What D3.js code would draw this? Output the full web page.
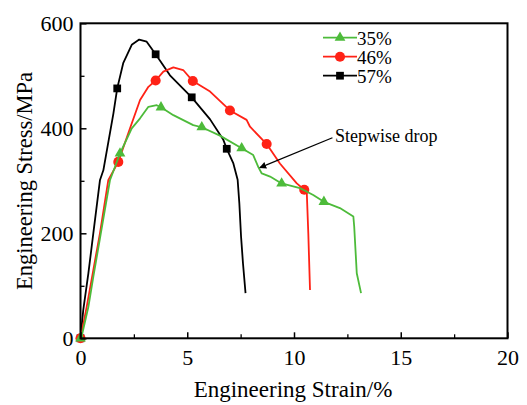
<!DOCTYPE html>
<html><head><meta charset="utf-8">
<script src="https://cdn.jsdelivr.net/npm/d3@7"></script>
<style>body{margin:0;background:#fff}svg{display:block}</style>
</head><body>
<script>
// ---- data ----
const seriesNames = ["35%", "46%", "57%"];
const seriesColors = ["#4dbb3a", "#ff2216", "#000000"];
const xTicks = [0, 5, 10, 15, 20];
const yTicks = [0, 200, 400, 600];

const strain35 = [0,0.05,0.37,0.6,0.91,1.38,1.85,2.4,2.79,3.18,3.57,3.77,4.35,5.28,5.68,6.53,7.55,8.09,8.33,8.49,8.88,9.42,10.28,10.9,11.4,12.15,12.78,12.82,12.94,13.14];
const stress35 = [0,3,60,117,190,301,352,400,419,441,444,440,425,406,402,386,362,349,326,314,308,295,286,273,260,248,232,213,124,86];
const mk35x = [0,1.85,3.77,5.68,7.55,9.42,11.4];
const mk35y = [0,352,440,402,362,295,260];

const strain46 = [0,0.29,0.6,0.91,1.3,1.77,2.32,2.79,3.18,3.52,3.88,4.35,4.81,5.26,6.07,7.0,7.78,7.94,8.72,9.34,10.13,10.48,10.6,10.67,10.75];
const stress46 = [0,60,130,200,301,336,400,454,479,491,508,516,511,490,470,434,416,403,370,333,295,283,276,200,92];
const mk46x = [0,1.77,3.52,5.26,7.0,8.72,10.48];
const mk46y = [0,336,491,490,434,370,283];

const strain57 = [0,0.13,0.37,0.6,0.91,1.07,1.54,1.72,2.0,2.4,2.75,3.1,3.52,4.19,5.21,6.07,6.69,6.85,7.16,7.36,7.44,7.52,7.61,7.73];
const stress57 = [0,54,124,200,301,320,428,476,524,559,569,565,541,501,459,417,378,361,333,302,257,194,143,86];
const mk57x = [0,1.72,3.52,5.21,6.85];
const mk57y = [0,476,541,459,361];

const annotationText = "Stepwise drop";
const annotFrom = [11.8, 382];  // data coords of arrow tail
const annotTo = [8.4, 325];     // data coords of arrow head

// ---- build ----
const W = 527, H = 405;
const svg = d3.select("body").append("svg").attr("width", W).attr("height", H);
const x = d3.scaleLinear().domain([0, 20]).range([80.5, 507.5]);
const y = d3.scaleLinear().domain([0, 600]).range([338.3, 23.3]);
const font = "'Liberation Serif','Times New Roman',serif";

const series = [
  {name: seriesNames[0], color: seriesColors[0], xs: strain35, ys: stress35, mx: mk35x, my: mk35y, shape: d3.symbolTriangle, size: 50},
  {name: seriesNames[1], color: seriesColors[1], xs: strain46, ys: stress46, mx: mk46x, my: mk46y, shape: d3.symbolCircle, size: 80},
  {name: seriesNames[2], color: seriesColors[2], xs: strain57, ys: stress57, mx: mk57x, my: mk57y, shape: d3.symbolSquare, size: 60}
];

const line = d3.line().x(d => x(d[0])).y(d => y(d[1]));
[2, 1, 0].forEach(i => {
  const s = series[i];
  const pts = s.xs.map((v, k) => [v, s.ys[k]]);
  svg.append("path").attr("d", line(pts)).attr("fill", "none")
    .attr("stroke", s.color).attr("stroke-width", 1.8).attr("stroke-linejoin", "round");
  const mpts = s.mx.map((v, k) => [v, s.my[k]]);
  svg.selectAll(null).data(mpts).enter().append("path")
    .attr("d", d3.symbol().type(s.shape).size(s.size))
    .attr("transform", d => `translate(${x(d[0])},${y(d[1])})`)
    .attr("fill", s.color);
});

// axes
const xAxis = d3.axisBottom(x).tickValues(xTicks).tickSize(-6).tickPadding(11).tickFormat(d3.format("d"));
const yAxis = d3.axisLeft(y).tickValues(yTicks).tickSize(-6).tickPadding(7).tickFormat(d3.format("d"));
const gx = svg.append("g").attr("transform", `translate(0,${y(0)})`).call(xAxis);
const gy = svg.append("g").attr("transform", `translate(${x(0)},0)`).call(yAxis);
[gx, gy].forEach(g => {
  g.select(".domain").remove();
  g.selectAll(".tick line").attr("stroke", "#000").attr("stroke-width", 1.5);
  g.selectAll(".tick text").attr("font-family", font).attr("font-size", 22).attr("fill", "#000");
});
// minor ticks
const xMinor = d3.axisBottom(x).tickValues([2.5, 7.5, 12.5, 17.5]).tickSize(-4).tickFormat("");
const yMinor = d3.axisLeft(y).tickValues([100, 300, 500]).tickSize(-4).tickFormat("");
const gxm = svg.append("g").attr("transform", `translate(0,${y(0)})`).call(xMinor);
const gym = svg.append("g").attr("transform", `translate(${x(0)},0)`).call(yMinor);
[gxm, gym].forEach(g => { g.select(".domain").remove(); g.selectAll(".tick line").attr("stroke", "#000").attr("stroke-width", 1.3); });

// frame
svg.append("rect").attr("x", x(0)).attr("y", y(600)).attr("width", x(20) - x(0)).attr("height", y(0) - y(600))
  .attr("fill", "none").attr("stroke", "#000").attr("stroke-width", 2);

// axis titles
svg.append("text").attr("x", 293).attr("y", 397).attr("text-anchor", "middle")
  .attr("font-family", font).attr("font-size", 23).text("Engineering Strain/%");
svg.append("text").attr("transform", "translate(32,181) rotate(-90)").attr("text-anchor", "middle")
  .attr("font-family", font).attr("font-size", 22.5).text("Engineering Stress/MPa");

// legend
const leg = svg.append("g");
series.forEach((s, i) => {
  const ly = 37.7 + i * 19;
  leg.append("line").attr("x1", 323).attr("x2", 357).attr("y1", ly).attr("y2", ly)
    .attr("stroke", s.color).attr("stroke-width", 1.8);
  leg.append("path").attr("d", d3.symbol().type(s.shape).size(s.size))
    .attr("transform", `translate(340,${ly})`).attr("fill", s.color);
  leg.append("text").attr("x", 357).attr("y", ly + 7).attr("font-family", font).attr("font-size", 19).text(s.name);
});

// annotation
svg.append("defs").append("marker").attr("id", "ah").attr("viewBox", "0 0 10 10")
  .attr("refX", 9).attr("refY", 5).attr("markerWidth", 7).attr("markerHeight", 7)
  .attr("orient", "auto").attr("markerUnits", "userSpaceOnUse")
  .append("path").attr("d", "M0,0 L10,5 L0,10 z").attr("fill", "#000");
svg.append("line").attr("x1", x(annotFrom[0])).attr("y1", y(annotFrom[1]))
  .attr("x2", x(annotTo[0])).attr("y2", y(annotTo[1]))
  .attr("stroke", "#000").attr("stroke-width", 1.3).attr("marker-end", "url(#ah)");
svg.append("text").attr("x", 335).attr("y", 141.5).attr("font-family", font).attr("font-size", 18).text(annotationText);
</script>
</body></html>
